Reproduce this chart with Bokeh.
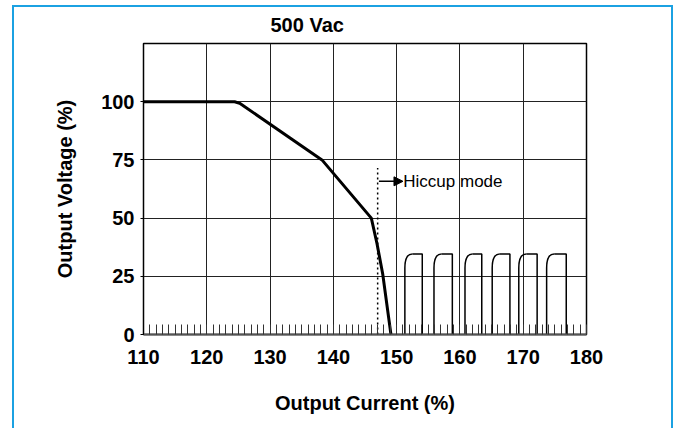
from bokeh.plotting import figure
from bokeh.models import Range1d, FixedTicker, Arrow, NormalHead
from bokeh.core.properties import value
from bokeh.embed import file_html
from bokeh.resources import INLINE

# ---- data ----
title_text = "500 Vac"
x_label = "Output Current (%)"
y_label = "Output Voltage (%)"

x_ticks = [110, 120, 130, 140, 150, 160, 170, 180]
x_minor = list(range(110, 181))
y_ticks = [0, 25, 50, 75, 100]

curve_x = [110.0, 124.4, 125.2, 138.2, 146.0, 146.9, 147.8, 149.1]
curve_y = [100.0, 100.0, 99.3, 75.0, 50.0, 39.0, 26.0, 0.0]

hiccup_x = 147.0       # dotted limit line
hiccup_top = 71.5
arrow_y = 65.8
arrow_end = 151.0
note_text = "Hiccup mode"

pulse_start = [151.3, 155.9, 160.8, 165.1, 169.3, 173.7]
pulse_end = [154.05, 158.8, 163.45, 167.9, 172.2, 176.8]
pulse_peak = [34.6, 34.6, 34.6, 34.6, 34.6, 34.6]

FONT = "Liberation Sans"
BLUE = "#1ba1e2"

p = figure(width=675, height=428, output_backend="svg", toolbar_location=None,
           x_range=Range1d(110, 180), y_range=Range1d(0, 125),
           min_border_left=143, min_border_right=89,
           min_border_top=43, min_border_bottom=94)
p.background_fill_color = "white"
p.border_fill_alpha = 0
p.outline_line_color = "black"
p.outline_line_width = 1.5

# light-blue frame drawn behind the (transparent) border area of the canvas
p.styles = {
    "background": (
        f"linear-gradient({BLUE},{BLUE}) 12px 5px / 2px 500px no-repeat, "
        f"linear-gradient({BLUE},{BLUE}) 12px 5px / 661px 2px no-repeat, "
        f"linear-gradient({BLUE},{BLUE}) 671px 5px / 2px 500px no-repeat, white"
    )
}

# title
p.title.text = title_text
p.title.align = "left"
p.title.offset = 127
p.title.text_font = FONT
p.title.text_font_size = "20px"
p.title.text_font_style = "bold"
p.title.text_color = "black"
p.title.standoff = 15

# x axis
p.xaxis.ticker = FixedTicker(ticks=x_ticks, minor_ticks=x_minor)
p.xaxis.axis_label = x_label
p.xaxis.axis_label_text_font = FONT
p.xaxis.axis_label_text_font_size = "20px"
p.xaxis.axis_label_text_font_style = "bold"
p.xaxis.axis_label_text_color = "black"
p.xaxis.axis_label_standoff = 25
p.xaxis.major_label_text_font = FONT
p.xaxis.major_label_text_font_size = "20px"
p.xaxis.major_label_text_font_style = "bold"
p.xaxis.major_label_text_color = "black"
p.xaxis.major_label_standoff = 15
p.xaxis.major_tick_in = 0
p.xaxis.major_tick_out = 0
p.xaxis.minor_tick_in = 10
p.xaxis.minor_tick_out = 0
p.xaxis.minor_tick_line_color = "#333333"
p.xaxis.minor_tick_line_width = 1
p.xaxis.axis_line_color = "#555555"
p.xaxis.axis_line_width = 2

# y axis
p.yaxis.ticker = FixedTicker(ticks=y_ticks, minor_ticks=[])
p.yaxis.axis_label = y_label
p.yaxis.axis_label_text_font = FONT
p.yaxis.axis_label_text_font_size = "20px"
p.yaxis.axis_label_text_font_style = "bold"
p.yaxis.axis_label_text_color = "black"
p.yaxis.axis_label_standoff = 22
p.yaxis.major_label_text_font = FONT
p.yaxis.major_label_text_font_size = "20px"
p.yaxis.major_label_text_font_style = "bold"
p.yaxis.major_label_text_color = "black"
p.yaxis.major_label_standoff = 6
p.yaxis.major_tick_in = 0
p.yaxis.major_tick_out = 3
p.yaxis.major_tick_line_color = "black"
p.yaxis.axis_line_color = "black"

# grid
p.xgrid.ticker = FixedTicker(ticks=x_ticks)
p.ygrid.ticker = FixedTicker(ticks=y_ticks)
for g in (p.xgrid, p.ygrid):
    g.grid_line_color = "#222222"
    g.grid_line_width = 1
    g.grid_line_alpha = 1

# main curve
p.line(curve_x, curve_y, line_color="black", line_width=3, line_join="round")

# dotted hiccup limit
p.line([hiccup_x, hiccup_x], [0, hiccup_top], line_color="black",
       line_width=1.5, line_dash="2 3")

# arrow + note
p.add_layout(Arrow(end=NormalHead(size=9, fill_color="black", line_color="black"),
                   x_start=hiccup_x + 0.2, y_start=arrow_y, x_end=arrow_end, y_end=arrow_y,
                   line_color="black", line_width=1.5))
p.text(x=[arrow_end + 0.05], y=[arrow_y], text=[note_text], text_font=value(FONT),
       text_font_size="17px", text_baseline="middle", text_align="left", text_color="black")

# hiccup pulses (rounded leading corner)
corner_dx = 1.2
corner_dy = 6.0
lx, ly = [], []
tx, ty = [], []
for s, e, pk in zip(pulse_start, pulse_end, pulse_peak):
    lx.append([s, s])
    ly.append([0, pk - corner_dy])
    tx.append([s + corner_dx, e, e])
    ty.append([pk, pk, 0])
p.multi_line(lx, ly, line_color="black", line_width=1.5)
p.multi_line(tx, ty, line_color="black", line_width=1.5)
p.quadratic(x0=pulse_start, y0=[pk - corner_dy for pk in pulse_peak],
            x1=[s + corner_dx for s in pulse_start], y1=pulse_peak,
            cx=pulse_start, cy=pulse_peak, line_color="black", line_width=1.5)

open("out.html", "w").write(file_html(p, INLINE))
